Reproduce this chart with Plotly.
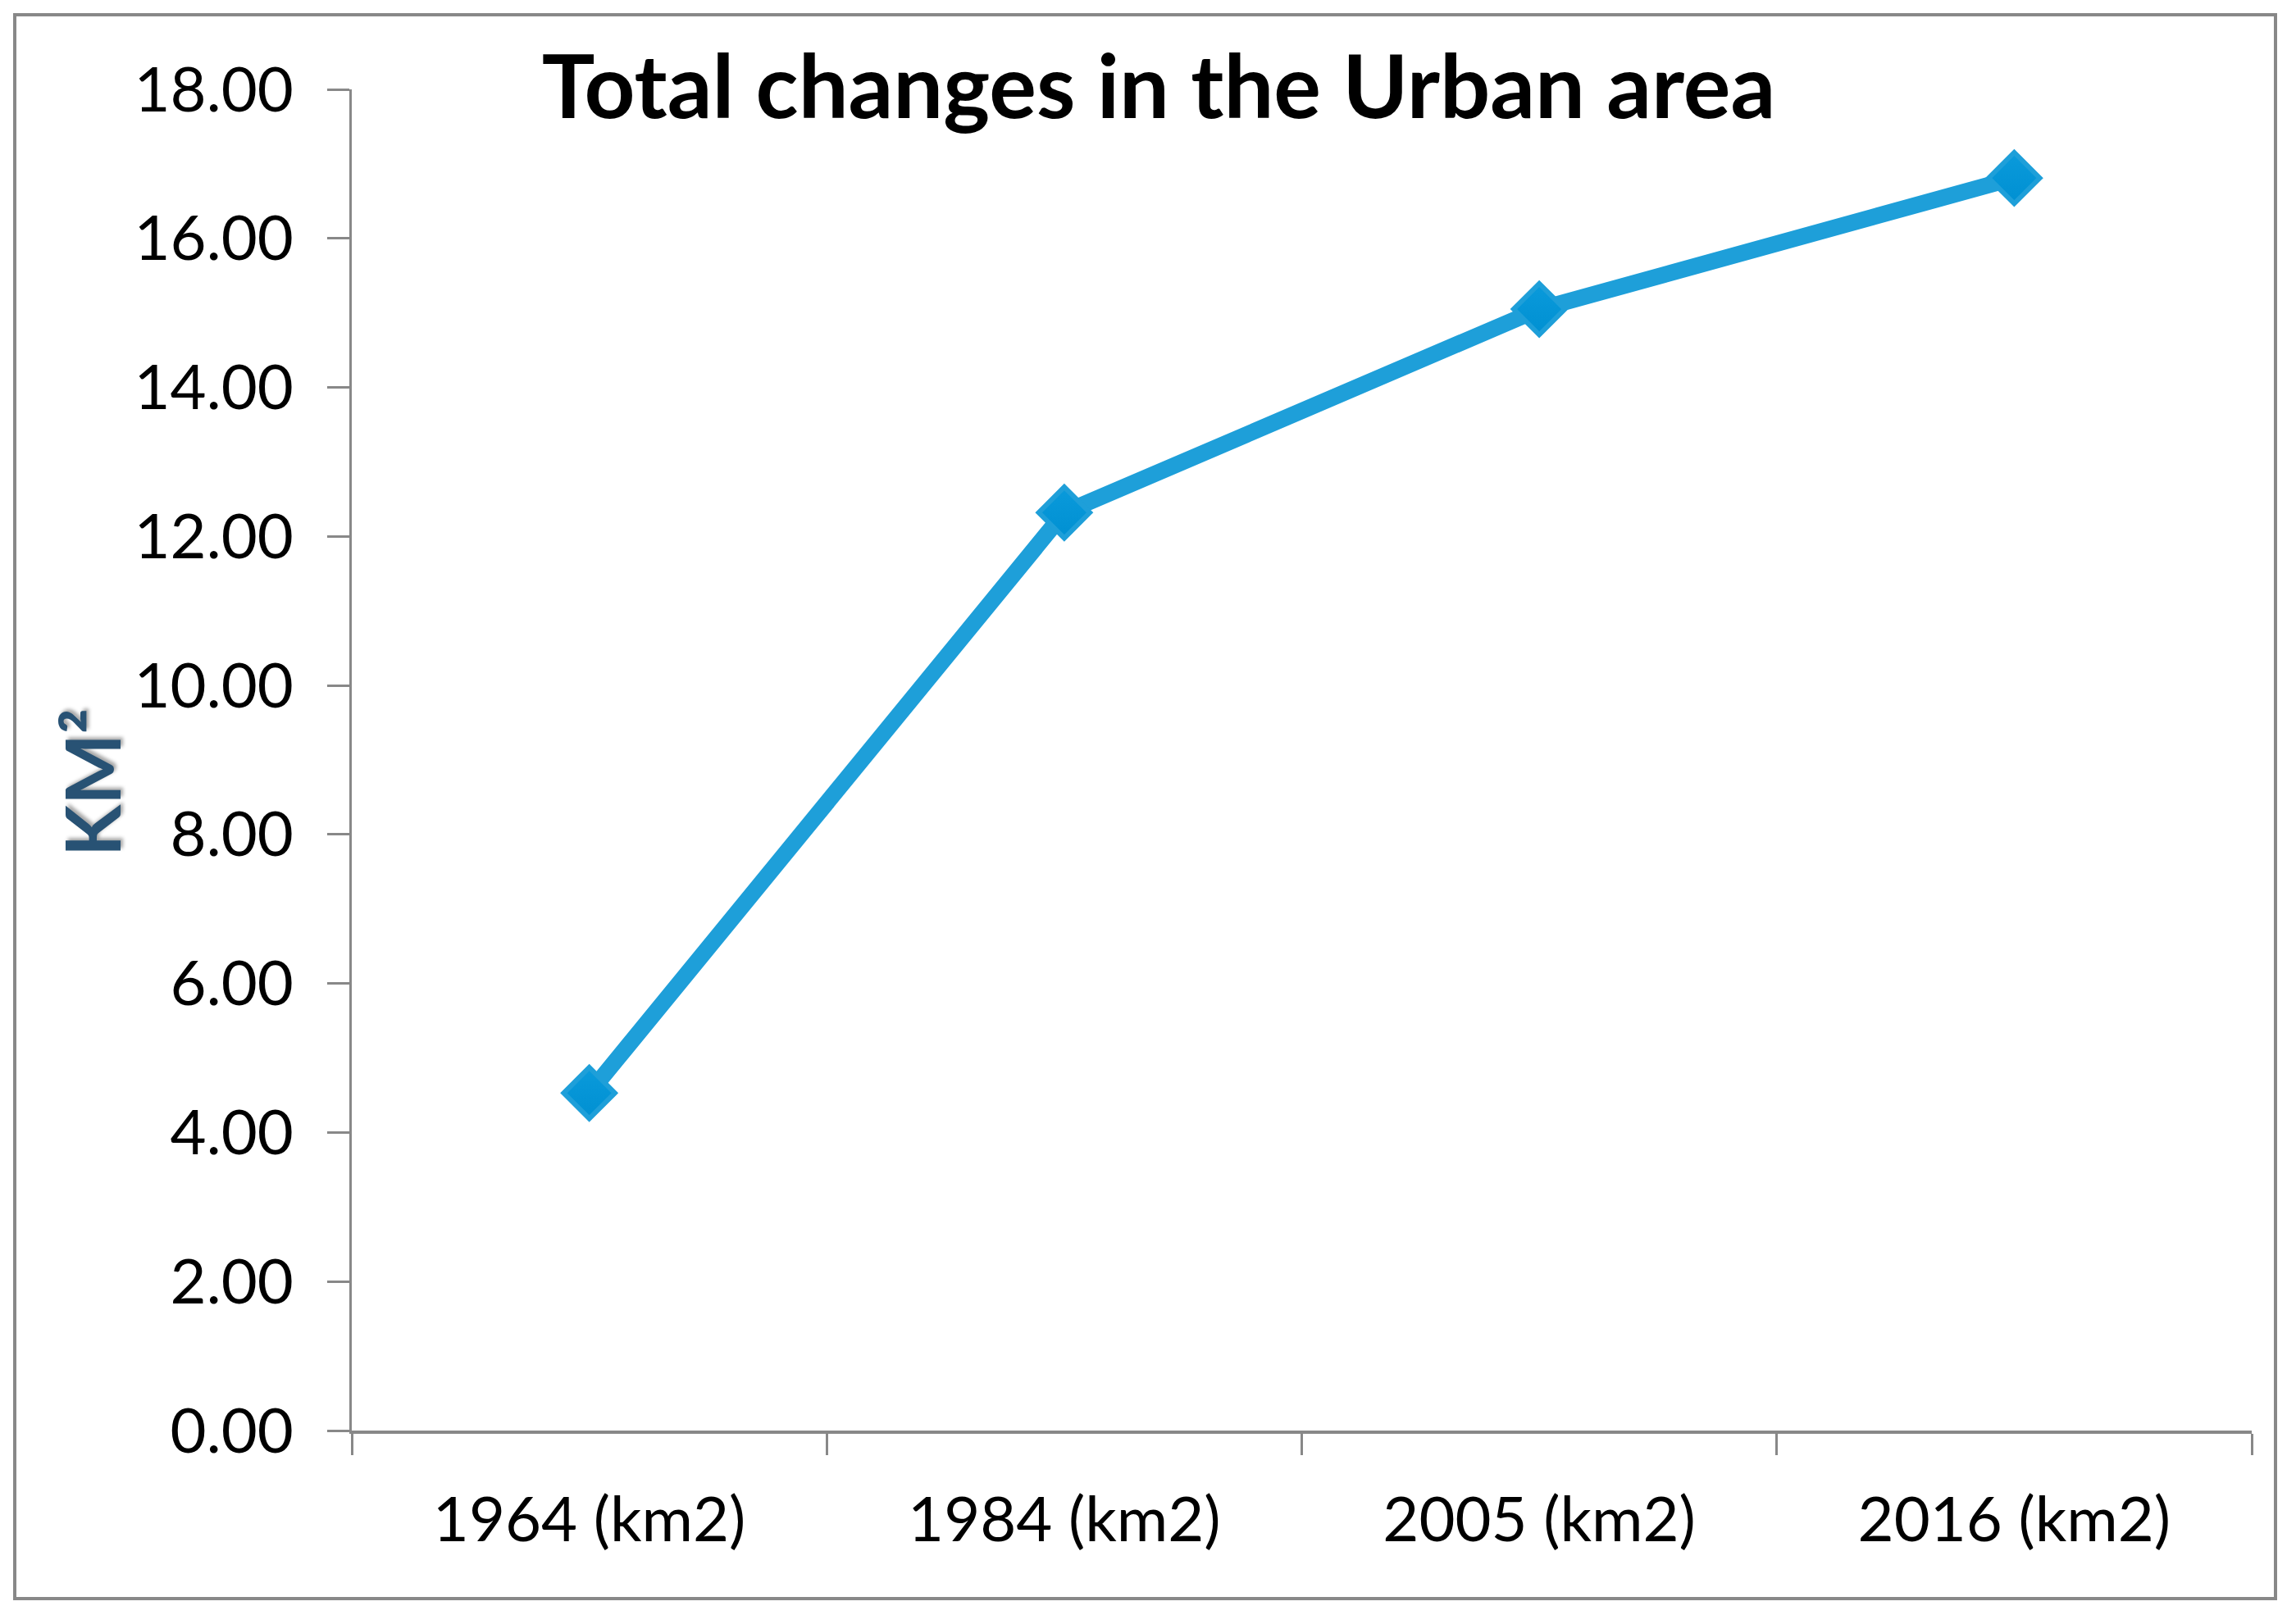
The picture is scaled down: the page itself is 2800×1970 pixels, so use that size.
import plotly.graph_objects as go

# urban area per survey year
years = ['1964 (km2)', '1984 (km2)', '2005 (km2)', '2016 (km2)']
area_km2 = [4.53, 12.32, 15.05, 16.81]

y_ticks = [0, 2, 4, 6, 8, 10, 12, 14, 16, 18]

W, H = 2800, 1970
# plot area in pixels
left, right, top, bottom = 429, 2746, 109, 1745

fig = go.Figure()
fig.add_trace(go.Scatter(
    x=years, y=area_km2, mode='lines+markers',
    line=dict(color='#1E9FD9', width=20),
    marker=dict(symbol='diamond', size=48, color='#0A9ADB',
                gradient=dict(type='vertical', color='#0090D2'),
                line=dict(color='#1E9FD9', width=6)),
    showlegend=False,
))

pw = right - left
ph = bottom - top
# outer frame around the whole chart
fig.add_shape(type='rect', xref='paper', yref='paper',
              x0=(18 - left) / pw, x1=(2775 - left) / pw,
              y0=(bottom - 1950) / ph, y1=(bottom - 18) / ph,
              line=dict(color='#888888', width=4), layer='below')

# y axis title, placed by hand like the original
fig.add_annotation(text='<b>KM²</b>', textangle=-90, showarrow=False,
                   xref='paper', yref='paper',
                   x=(111 - left) / pw, y=(bottom - 955) / ph,
                   xanchor='center', yanchor='middle',
                   font=dict(size=92, color='#285274',
                             shadow='3px 3px 4px rgba(0,0,0,0.35)'))

fig.update_layout(
    width=W, height=H,
    margin=dict(l=left, r=W - right, t=top, b=H - bottom),
    paper_bgcolor='white', plot_bgcolor='white',
    font=dict(family='Lato, Noto Sans, sans-serif', color='black'),
    title=dict(text='<b>Total changes in the Urban area</b>',
               font=dict(size=108, color='black'),
               x=(1413) / W, xanchor='center',
               y=1 - 106 / H, yanchor='middle'),
    xaxis=dict(
        type='category', range=[-0.5, 3.5],
        showline=True, linecolor='#888888', linewidth=4,
        ticks='outside', tickson='boundaries', ticklen=26,
        tickcolor='#888888', tickwidth=3,
        tickfont=dict(size=76), ticklabelstandoff=40,
        showgrid=False, zeroline=False,
    ),
    yaxis=dict(
        range=[0, 18], tickvals=y_ticks, tickformat='.2f',
        showline=True, linecolor='#888888', linewidth=3,
        ticks='outside', ticklen=27, tickcolor='#888888', tickwidth=3,
        tickfont=dict(size=76), ticklabelstandoff=26,
        showgrid=False, zeroline=False,
    ),
)

fig.write_html('out.html', config={'displayModeBar': False},
               post_script="document.body.style.margin='0';document.body.style.overflow='hidden';")
